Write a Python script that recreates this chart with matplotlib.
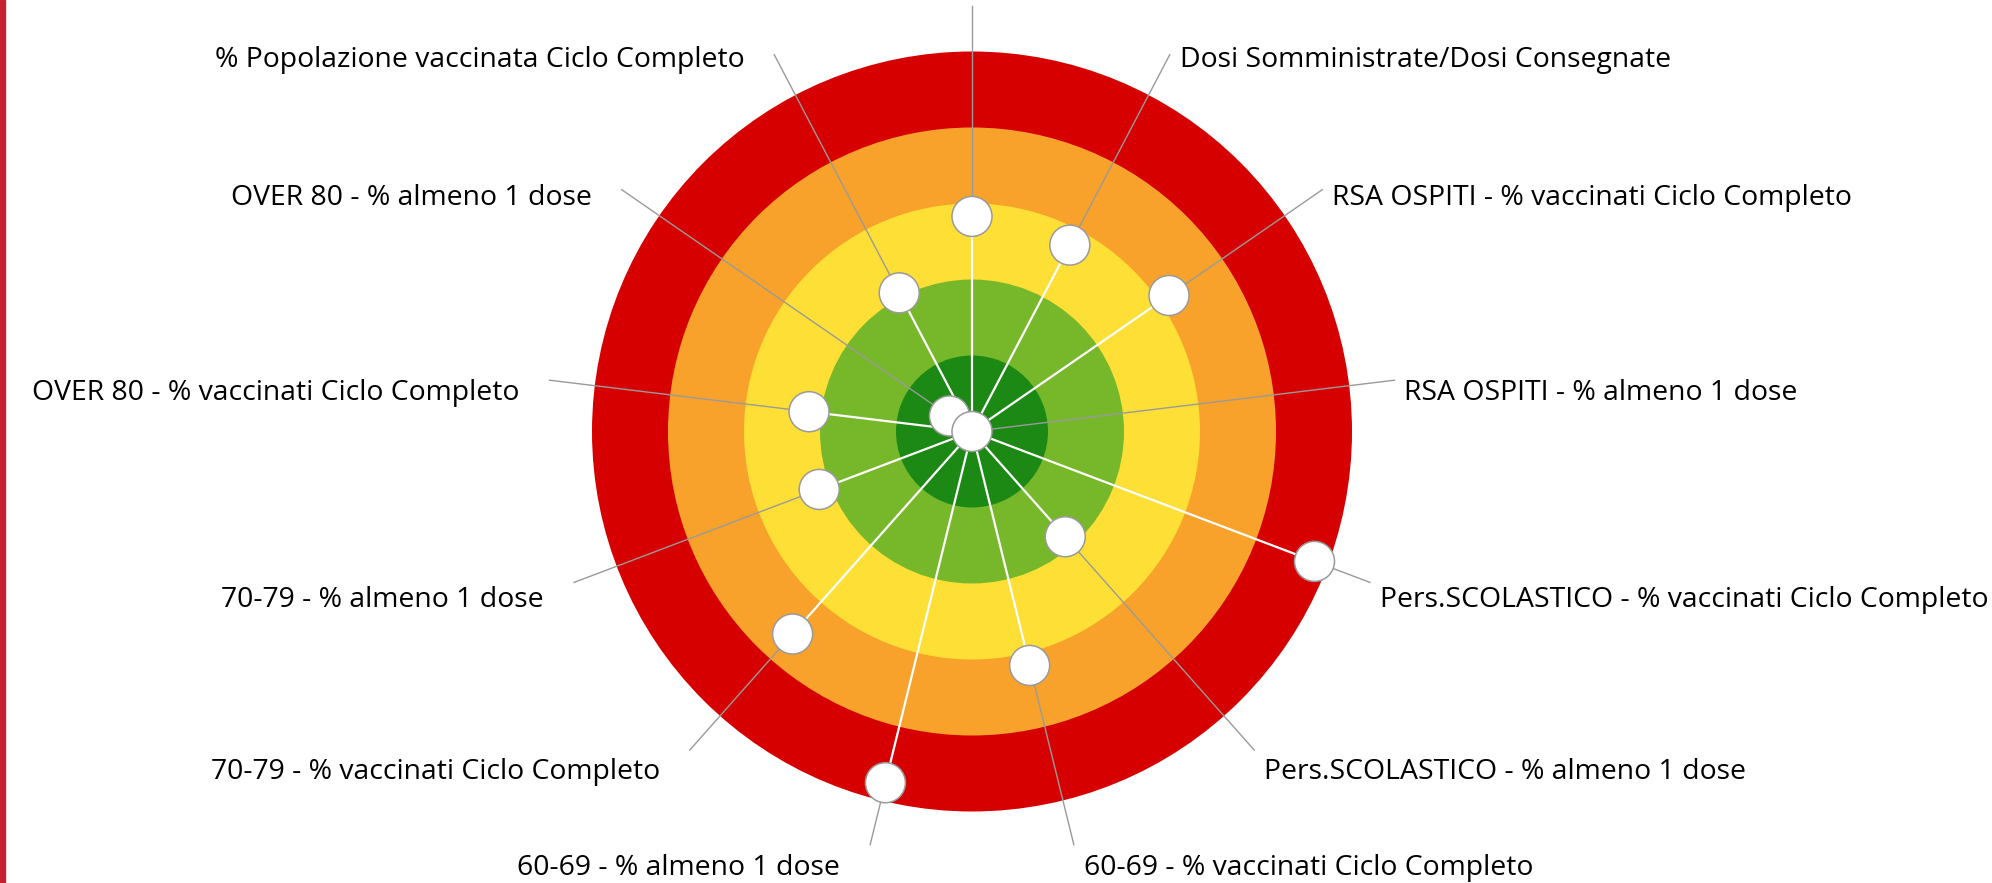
import numpy as np
import matplotlib
matplotlib.use('Agg')
import matplotlib.pyplot as plt
from matplotlib.patches import Circle, Rectangle

# indicator names, clockwise from the top (the top one is cut off in the source)
labels = [
    '',
    'Dosi Somministrate/Dosi Consegnate',
    'RSA OSPITI - % vaccinati Ciclo Completo',
    'RSA OSPITI - % almeno 1 dose',
    'Pers.SCOLASTICO - % vaccinati Ciclo Completo',
    'Pers.SCOLASTICO - % almeno 1 dose',
    '60-69 - % vaccinati Ciclo Completo',
    '60-69 - % almeno 1 dose',
    '70-79 - % vaccinati Ciclo Completo',
    '70-79 - % almeno 1 dose',
    'OVER 80 - % vaccinati Ciclo Completo',
    'OVER 80 - % almeno 1 dose',
    '% Popolazione vaccinata Ciclo Completo',
]
# score on the 0-5 band scale
scores = [2.83, 2.77, 3.15, 0.0, 4.82, 1.85, 3.17, 4.76, 3.56, 2.15, 2.16, 0.36, 2.06]

bands = [5, 4, 3, 2, 1]
band_colors = ['#d60000', '#f8a22b', '#fedf35', '#77b82b', '#1b8914']

W, H = 1992, 883
px = 76.0              # pixels per band
cx, cy = 972, 431.5    # centre in pixels from top-left
leader_r = 5.6

plt.rcParams['font.family'] = ['Open Sans', 'DejaVu Sans']

fig = plt.figure(figsize=(W / 100, H / 100), dpi=100)
ax = fig.add_axes([0, 0, 1, 1])
ax.set_xlim(-cx / px, (W - cx) / px)
ax.set_ylim(-(H - cy) / px, cy / px)
ax.axis('off')

fig.patches.append(Rectangle((0, 0), 5 / W, 1, transform=fig.transFigure,
                             color='#c8202f', zorder=0))

for r, c in zip(bands, band_colors):
    ax.add_patch(Circle((0, 0), r, color=c, lw=0, zorder=1))

n = len(scores)
ang = np.arange(n) * 2 * np.pi / n
order = np.argsort(-np.array(scores))
for i in range(n):
    s, a = np.sin(ang[i]), np.cos(ang[i])
    v = scores[i]
    ax.plot([0, v * s], [0, v * a], color='white', lw=1.6, zorder=2,
            solid_capstyle='butt')
    ax.plot([v * s, leader_r * s], [v * a, leader_r * a], color='#9a9a9a',
            lw=1.0, zorder=2)
    if labels[i]:
        right = s > 0.01
        dy = 10 * (1 - a)
        ax.annotate(labels[i], xy=(leader_r * s, leader_r * a),
                    xytext=(10 if right else -30, -(dy + 11)),
                    textcoords='offset pixels',
                    ha='left' if right else 'right', va='baseline',
                    fontsize=20.4, color='black', zorder=5)

for k, i in enumerate(order):
    v = scores[i]
    ax.add_patch(Circle((v * np.sin(ang[i]), v * np.cos(ang[i])), 20 / px,
                        facecolor='white', edgecolor='#9a9a9a', lw=1.1,
                        zorder=3 + k * 0.01))

fig.savefig('out.png', dpi=100)
